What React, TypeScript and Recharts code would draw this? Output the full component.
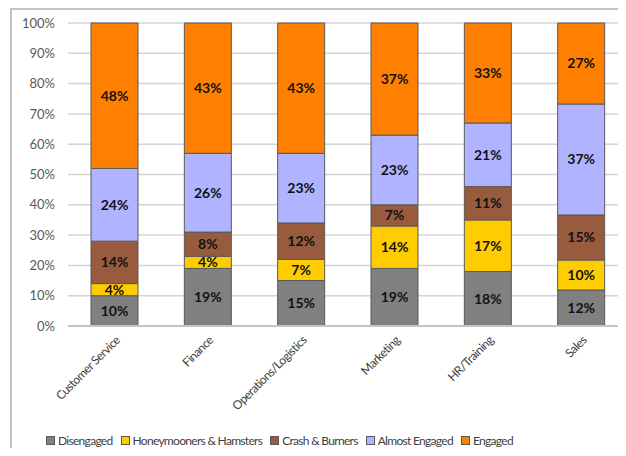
import React from "react";
import { BarChart, Bar, XAxis, YAxis, CartesianGrid, Legend, LabelList } from "recharts";

const departments = ["Customer Service", "Finance", "Operations/Logistics", "Marketing", "HR/Training", "Sales"];
const disengaged = [10, 19, 15, 19, 18, 12];
const honeymooners = [4, 4, 7, 14, 17, 10];
const crashBurners = [14, 8, 12, 7, 11, 15];
const almostEngaged = [24, 26, 23, 23, 21, 37];
const engaged = [48, 43, 43, 37, 33, 27];
const yTicks = [0, 0.1, 0.2, 0.3, 0.4, 0.5, 0.6, 0.7, 0.8, 0.9, 1];

const series = [
    { key: "disengaged", name: "Disengaged", color: "#808080" },
    { key: "honeymooners", name: "Honeymooners & Hamsters", color: "#FFCC00" },
    { key: "crash", name: "Crash & Burners", color: "#985B3E" },
    { key: "almost", name: "Almost Engaged", color: "#B0B3FF" },
    { key: "engaged", name: "Engaged", color: "#FF8000" },
];

const data = departments.map((d, i) => ({
    name: d,
    disengaged: disengaged[i],
    honeymooners: honeymooners[i],
    crash: crashBurners[i],
    almost: almostEngaged[i],
    engaged: engaged[i],
}));

const FONT = "Lato, 'Open Sans', sans-serif";

const DeptTick = (props: any) => {
    const { x, y, payload } = props;
    return (
        <text
            transform={`translate(${x + 6}, ${y + 7}) rotate(-45)`}
            textAnchor="end"
            fontSize={12}
            letterSpacing={-0.5}
            fontFamily={FONT}
            fill="#404040"
        >
            {payload.value}
        </text>
    );
};

// keep the series order (recharts sorts legend items by name otherwise)
const LegendContent = () => (
    <div style={{ display: "flex", justifyContent: "flex-start", alignItems: "center", height: 20, fontFamily: FONT, fontSize: 12, letterSpacing: -0.7, color: "#404040", paddingLeft: 46 }}>
        {series.map((s) => (
            <span key={s.key} style={{ display: "flex", alignItems: "center", marginRight: 8 }}>
                <span style={{ width: 7, height: 7, background: s.color, border: "1px solid #595959", marginRight: 3 }} />
                {s.name}
            </span>
        ))}
    </div>
);

export default function App() {
    return (
        <div style={{ margin: -8, position: "relative", width: 626, height: 456, overflow: "hidden", background: "#fff" }}>
            <div style={{ position: "absolute", left: 10, top: 8, width: 640, height: 460, borderTop: "2px solid #c4c4c4", borderLeft: "2px solid #c4c4c4" }} />
            <div style={{ position: "absolute", left: 0, top: 0 }}>
                <BarChart
                    width={628}
                    height={456}
                    data={data}
                    stackOffset="expand"
                    barSize={47}
                    margin={{ top: 23, right: 0, bottom: 6, left: 0 }}
                >
                    <CartesianGrid vertical={false} stroke="#d4d4d4" strokeWidth={1.5} />
                    <XAxis
                        dataKey="name"
                        interval={0}
                        height={104}
                        tickLine={false}
                        axisLine={{ stroke: "#c4c4c4", strokeWidth: 2 }}
                        tick={<DeptTick />}
                    />
                    <YAxis
                        width={68}
                        domain={[0, 1]}
                        ticks={yTicks}
                        tickFormatter={(v: number) => `${Math.round(v * 100)}%`}
                        axisLine={false}
                        tickLine={false}
                        tickSize={0}
                        tickMargin={13}
                        tick={{ fontSize: 13, fontFamily: FONT, fill: "#595959" }}
                    />
                    <Legend verticalAlign="bottom" content={<LegendContent />} />
                    {series.map((s) => (
                        <Bar key={s.key} dataKey={s.key} name={s.name} stackId="a" fill={s.color} stroke="#595959" strokeWidth={1} isAnimationActive={false}>
                            <LabelList
                                dataKey={s.key}
                                position="center"
                                formatter={(v: any) => `${v}%`}
                                style={{ fontSize: 14, fontWeight: 700, fontFamily: FONT, fill: "#111" }}
                            />
                        </Bar>
                    ))}
                </BarChart>
            </div>
        </div>
    );
}
